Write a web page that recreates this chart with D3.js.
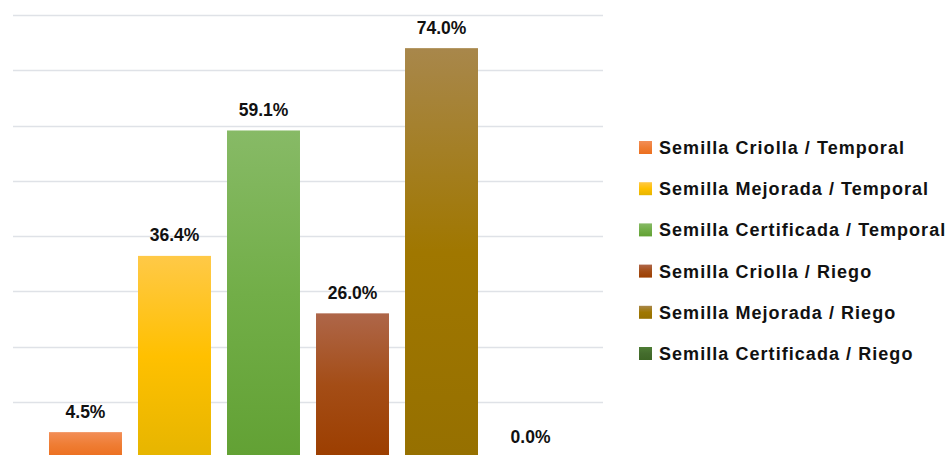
<!DOCTYPE html>
<html>
<head>
<meta charset="utf-8">
<script src="https://cdn.jsdelivr.net/npm/d3@7"></script>
<style>
  html, body { margin: 0; padding: 0; background: #ffffff; overflow: hidden; }
  svg { display: block; }
  text { font-family: "Liberation Sans", Arial, sans-serif; font-weight: bold; fill: #111111; }
</style>
</head>
<body>
<svg id="chart" width="952" height="455"></svg>
<script>
// ---- data ----
const series = [
  "Semilla Criolla / Temporal",
  "Semilla Mejorada / Temporal",
  "Semilla Certificada / Temporal",
  "Semilla Criolla / Riego",
  "Semilla Mejorada / Riego",
  "Semilla Certificada / Riego"
];
const values = [4.5, 36.4, 59.1, 26.0, 74.0, 0.0];
const gridTicks = [0, 10, 20, 30, 40, 50, 60, 70, 80];
// gradient stops per series (top, middle, bottom)
const gradTop = ["#f28e57", "#ffc947", "#87ba66", "#ae6649", "#a8874b", "#4e7d35"];
const gradMid = ["#ef7d34", "#ffc000", "#72ae48", "#a44d16", "#a07700", "#446c2d"];
const gradBot = ["#ec6f1f", "#e6b500", "#62a134", "#9c3e00", "#967000", "#3d6625"];

const svg = d3.select("#chart");

const x = d3.scaleBand().domain(series).range([49, 567]).paddingInner(0.18).paddingOuter(0);
const y = d3.scaleLinear().domain([0, 80]).range([457, 15]);

// gradients
const defs = svg.append("defs");
series.forEach((s, i) => {
  const g = defs.append("linearGradient").attr("id", "g" + i)
    .attr("x1", 0).attr("y1", 0).attr("x2", 0).attr("y2", 1);
  g.append("stop").attr("offset", "0%").attr("stop-color", gradTop[i]);
  g.append("stop").attr("offset", "50%").attr("stop-color", gradMid[i]);
  g.append("stop").attr("offset", "100%").attr("stop-color", gradBot[i]);
});

// gridlines
svg.append("g").selectAll("line").data(gridTicks).join("line")
  .attr("x1", 13).attr("x2", 603)
  .attr("y1", d => Math.round(y(d)) + 0.5).attr("y2", d => Math.round(y(d)) + 0.5)
  .attr("stroke", "#dfe2e7").attr("stroke-width", 1.4);

// bars
svg.append("g").selectAll("rect").data(series).join("rect")
  .attr("x", d => x(d))
  .attr("width", x.bandwidth())
  .attr("y", (d, i) => y(values[i]))
  .attr("height", (d, i) => y(0) - y(values[i]))
  .attr("fill", (d, i) => `url(#g${i})`);

// data labels
svg.append("g").selectAll("text").data(series).join("text")
  .attr("x", d => x(d) + x.bandwidth() / 2)
  .attr("y", (d, i) => y(values[i]) - 14.5)
  .attr("text-anchor", "middle")
  .style("font-size", "17.5px")
  .text((d, i) => values[i].toFixed(1) + "%");

// legend
const leg = svg.append("g");
const legY = d3.scaleLinear().domain([0, 5]).range([147.5, 353.5]);
series.forEach((s, i) => {
  leg.append("rect")
    .attr("x", 639).attr("y", legY(i) - 6.5)
    .attr("width", 13).attr("height", 13)
    .attr("fill", `url(#g${i})`);
  leg.append("text")
    .attr("x", 659).attr("y", legY(i) + 6.4)
    .style("font-size", "18px")
    .style("letter-spacing", "1.05px")
    .text(s);
});
</script>
</body>
</html>
